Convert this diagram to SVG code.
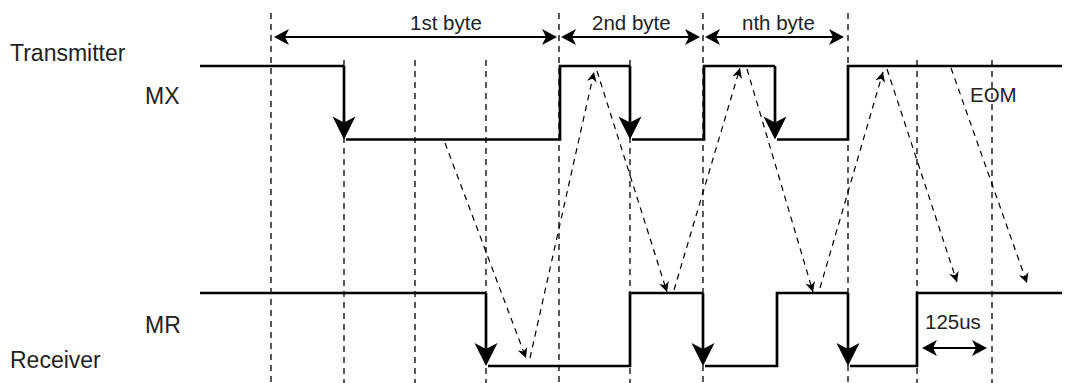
<svg xmlns="http://www.w3.org/2000/svg" width="1075" height="383" viewBox="0 0 1075 383">
<style>
.bg{fill:#ffffff}
.grid{stroke:#000;stroke-width:1.3;stroke-dasharray:6 5;fill:none}
.sig{stroke:#000;stroke-width:2.7;fill:none;stroke-linejoin:miter}
.fall{stroke:#000;stroke-width:2.7;fill:none;marker-end:url(#mFall)}
.dim{stroke:#000;stroke-width:2;fill:none;marker-start:url(#mDim);marker-end:url(#mDim)}
.msg{stroke:#000;stroke-width:1.2;stroke-dasharray:6 5;fill:none;marker-end:url(#mMsg)}
.lbl{font-family:"Liberation Sans",Arial,sans-serif;font-size:23px;fill:#222}
.sm{font-family:"Liberation Sans",Arial,sans-serif;font-size:20.5px;fill:#222}
</style>
<defs>
<marker id="mFall" viewBox="-7 -12 25 24" refX="0" refY="0" markerWidth="25" markerHeight="24" markerUnits="userSpaceOnUse" orient="auto">
<path d="M17,0 L-6,-11.5 L0,0 L-6,11.5 Z" fill="#000"/>
</marker>
<marker id="mDim" viewBox="-5 -9 17 18" refX="0" refY="0" markerWidth="17" markerHeight="18" markerUnits="userSpaceOnUse" orient="auto-start-reverse">
<path d="M11,0 L-4,-8 L0,0 L-4,8 Z" fill="#000"/>
</marker>
<marker id="mMsg" viewBox="-11 -6 12 12" refX="0" refY="0" markerWidth="12" markerHeight="12" markerUnits="userSpaceOnUse" orient="auto">
<path d="M0,0 L-10,-5 L-7,0 L-10,5 Z" fill="#000"/>
</marker>
</defs>
<rect class="bg" x="0" y="0" width="1075" height="383"/>

<g id="grid">
<line class="grid" x1="271" y1="13" x2="271" y2="383"/>
<line class="grid" x1="344" y1="60" x2="344" y2="383"/>
<line class="grid" x1="415" y1="60" x2="415" y2="383"/>
<line class="grid" x1="486" y1="60" x2="486" y2="383"/>
<line class="grid" x1="559" y1="13" x2="559" y2="383"/>
<line class="grid" x1="630" y1="60" x2="630" y2="383"/>
<line class="grid" x1="703" y1="13" x2="703" y2="383"/>
<line class="grid" x1="848" y1="13" x2="848" y2="383"/>
<line class="grid" x1="917" y1="60" x2="917" y2="383"/>
<line class="grid" x1="992" y1="60" x2="992" y2="383"/>
</g>

<g id="labels">
<text class="lbl" x="10" y="61">Transmitter</text>
<text class="lbl" x="145" y="104">MX</text>
<text class="lbl" x="145" y="333">MR</text>
<text class="lbl" x="10" y="368">Receiver</text>
</g>

<g id="mx-signal">
<path class="sig" d="M200,66 H344"/>
<path class="sig" d="M346,139.5 H560 V66 H630"/>
<path class="sig" d="M632,139.5 H704 V66 H775"/>
<path class="sig" d="M777,139.5 H848 V66 H1062"/>
</g>

<g id="mr-signal">
<path class="sig" d="M200,293 H486"/>
<path class="sig" d="M488,366 H630 V293 H703"/>
<path class="sig" d="M705,366 H777 V293 H848"/>
<path class="sig" d="M850,366 H917 V293 H1062"/>
</g>

<g id="byte1"><text class="sm" x="410" y="30">1st byte</text></g>
<g id="byte2"><text class="sm" x="592" y="30">2nd byte</text></g>
<g id="byten"><text class="sm" x="742" y="30">nth byte</text></g>
<g id="eom"><text class="sm" x="970" y="102">EOM</text></g>
<g id="t125"><text class="sm" x="925" y="329">125us</text></g>

<g id="connectors">
<line class="fall" x1="344" y1="66" x2="344" y2="122.5"/>
<line class="fall" x1="630" y1="66" x2="630" y2="122.5"/>
<line class="fall" x1="775" y1="66" x2="775" y2="122.5"/>
<line class="fall" x1="486" y1="293" x2="486" y2="349"/>
<line class="fall" x1="703" y1="293" x2="703" y2="349"/>
<line class="fall" x1="848" y1="293" x2="848" y2="349"/>

<line class="dim" x1="285" y1="37" x2="546" y2="37"/>
<line class="dim" x1="572" y1="37" x2="689" y2="37"/>
<line class="dim" x1="716" y1="37" x2="833" y2="37"/>
<line class="dim" x1="933" y1="348" x2="976" y2="348"/>

<line class="msg" x1="445" y1="143" x2="526" y2="358"/>
<line class="msg" x1="530" y1="358" x2="594" y2="72"/>
<line class="msg" x1="597" y1="71" x2="667" y2="292"/>
<line class="msg" x1="674" y1="290" x2="740" y2="68"/>
<line class="msg" x1="747" y1="69" x2="813" y2="292"/>
<line class="msg" x1="820" y1="288" x2="883" y2="72"/>
<line class="msg" x1="887" y1="69" x2="957" y2="282"/>
<line class="msg" x1="951" y1="68" x2="1027" y2="283"/>
</g>
</svg>
